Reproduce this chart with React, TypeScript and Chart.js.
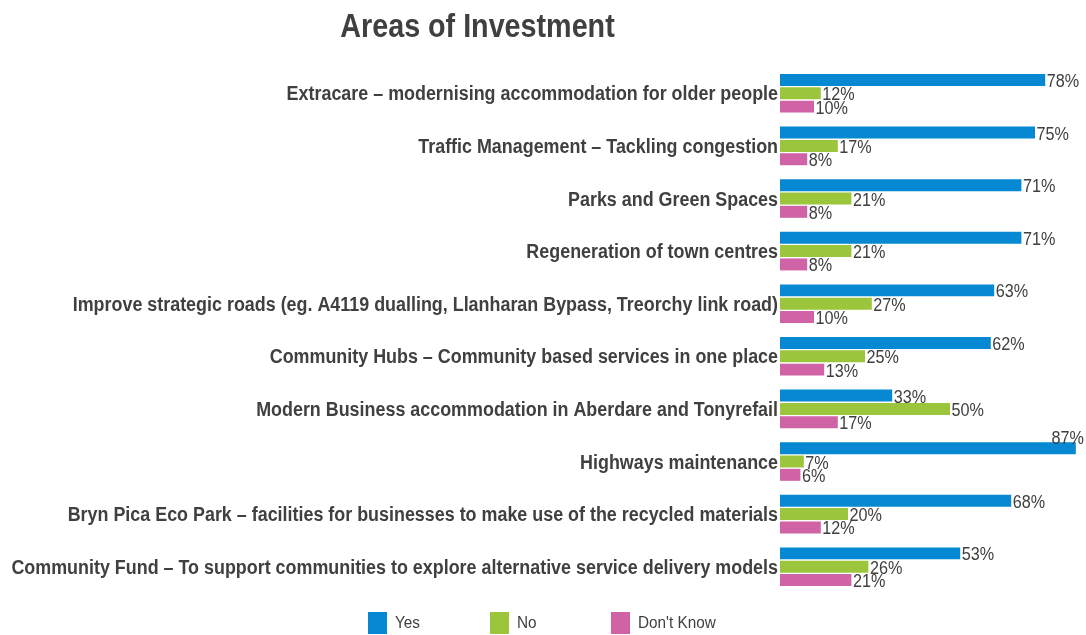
import React, { useEffect, useRef } from "react";
import { Chart, registerables } from "chart.js";

Chart.register(...registerables);

const categories = [
  "Extracare – modernising accommodation for older people",
  "Traffic Management – Tackling congestion",
  "Parks and Green Spaces",
  "Regeneration of town centres",
  "Improve strategic roads (eg. A4119 dualling, Llanharan Bypass, Treorchy link road)",
  "Community Hubs – Community based services in one place",
  "Modern Business accommodation in Aberdare and Tonyrefail",
  "Highways maintenance",
  "Bryn Pica Eco Park – facilities for businesses to make use of the recycled materials",
  "Community Fund – To support communities to explore alternative service delivery models",
];

const seriesNames = ["Yes", "No", "Don't Know"];
const yesValues = [78, 75, 71, 71, 63, 62, 33, 87, 68, 53];
const noValues = [12, 17, 21, 21, 27, 25, 50, 7, 20, 26];
const dontKnowValues = [10, 8, 8, 8, 10, 13, 17, 6, 12, 21];
const seriesColors = ["#0788D2", "#9BC63C", "#D062A6"];

const TEXT = "#404040";
const FONT = '"Liberation Sans", Arial, sans-serif';
const SQUEEZE = 0.9;

// Draws the category labels of the y scale with the same narrow rendering as the reference
const categoryLabelPlugin = {
  id: "categoryLabels",
  afterDraw(chart: any) {
    const ctx = chart.ctx;
    const yScale = chart.scales.y;
    const right = yScale.right - 2;
    ctx.save();
    ctx.font = `bold 20px ${FONT}`;
    ctx.fillStyle = TEXT;
    ctx.textAlign = "right";
    ctx.textBaseline = "alphabetic";
    chart.data.labels.forEach((label: string, i: number) => {
      const y = yScale.getPixelForValue(i);
      ctx.save();
      ctx.translate(right, y + 7);
      ctx.scale(0.895, 1);
      ctx.fillText(label, 0, 0);
      ctx.restore();
    });
    ctx.restore();
  },
};

const valueLabelPlugin = {
  id: "valueLabels",
  afterDatasetsDraw(chart: any) {
    const ctx = chart.ctx;
    ctx.save();
    ctx.font = `18px ${FONT}`;
    ctx.fillStyle = TEXT;
    ctx.textBaseline = "alphabetic";
    chart.data.datasets.forEach((ds: any, di: number) => {
      const meta = chart.getDatasetMeta(di);
      meta.data.forEach((bar: any, i: number) => {
        const text = `${ds.data[i]}%`;
        const w = ctx.measureText(text).width * SQUEEZE;
        const top = bar.y - bar.height / 2;
        ctx.save();
        if (bar.x + 2 + w > chart.width) {
          ctx.textAlign = "right";
          ctx.translate(chart.width - 2, top + 2);
        } else {
          ctx.textAlign = "left";
          ctx.translate(bar.x + 1.5, bar.y + 7);
        }
        ctx.scale(SQUEEZE, 1);
        ctx.fillText(text, 0, 0);
        ctx.restore();
      });
    });
    ctx.restore();
  },
};

export default function App() {
  const canvasRef = useRef<HTMLCanvasElement | null>(null);

  useEffect(() => {
    const values = [yesValues, noValues, dontKnowValues];
    const chart = new Chart(canvasRef.current as HTMLCanvasElement, {
      type: "bar",
      data: {
        labels: categories,
        datasets: seriesNames.map((name, i) => ({
          label: name,
          data: values[i],
          backgroundColor: seriesColors[i],
          borderWidth: 0,
          barPercentage: 0.9,
          categoryPercentage: 0.76,
        })),
      },
      options: {
        indexAxis: "y",
        animation: false,
        responsive: true,
        maintainAspectRatio: false,
        layout: { padding: { top: 67, bottom: 42, left: 0, right: 0 } },
        plugins: {
          legend: { display: false },
          title: { display: false },
          tooltip: { enabled: false },
        },
        scales: {
          x: { display: false, min: 0, max: 90 },
          y: {
            grid: { display: false, drawTicks: false },
            border: { display: false },
            ticks: { display: false },
            afterFit: (scale: any) => {
              scale.width = 780;
            },
          },
        },
      },
      plugins: [valueLabelPlugin, categoryLabelPlugin],
    });
    return () => chart.destroy();
  }, []);

  return (
    <div style={{ position: "absolute", left: 0, top: 0, width: 1086, height: 635, background: "#fff" }}>
      <canvas ref={canvasRef} />
      <div
        style={{
          position: "absolute",
          left: 0,
          top: 9,
          width: 955,
          textAlign: "center",
          fontFamily: FONT,
          fontWeight: "bold",
          fontSize: 33,
          lineHeight: "33px",
          color: TEXT,
          transform: "scaleX(0.87)",
          transformOrigin: "center",
          whiteSpace: "nowrap",
        }}
      >
        Areas of Investment
      </div>
      <div style={{ position: "absolute", left: 368, top: 612, display: "flex" }}>
        {seriesNames.map((name, i) => (
          <div key={name} style={{ width: 121.5, display: "flex", alignItems: "center" }}>
            <span style={{ width: 19, height: 22, background: seriesColors[i], display: "inline-block" }} />
            <span
              style={{
                marginLeft: 8,
                fontFamily: FONT,
                fontSize: 17,
                color: TEXT,
                whiteSpace: "nowrap",
                display: "inline-block",
                transform: "scaleX(0.9)",
                transformOrigin: "left center",
              }}
            >
              {name}
            </span>
          </div>
        ))}
      </div>
    </div>
  );
}
